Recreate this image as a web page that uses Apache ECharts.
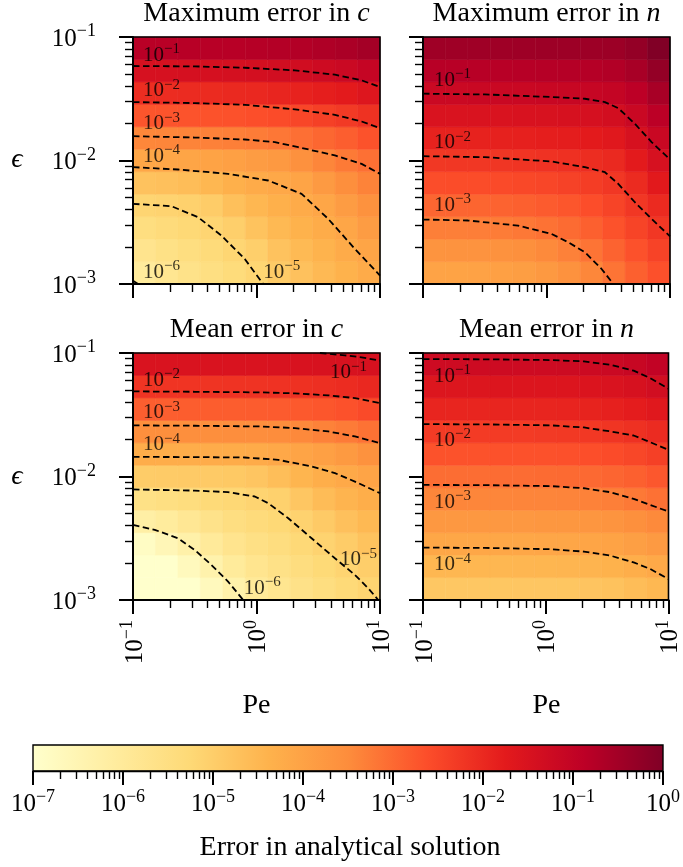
<!DOCTYPE html>
<html><head><meta charset="utf-8">
<script src="https://cdn.jsdelivr.net/npm/echarts@6/dist/echarts.min.js"></script>
<style>html,body{margin:0;padding:0;background:#fff}#c{width:683px;height:867px}</style>
</head><body><div id="c"></div>
<script>
// ---------- DATA (all values are log10 of the quantity) ----------
// grid node positions: log10(Pe) and log10(epsilon)
const logPeGrid  = [-1, -0.8182, -0.6364, -0.4545, -0.2727, -0.0909, 0.0909, 0.2727, 0.4545, 0.6364, 0.8182, 1];
const logEpsGrid = [-3, -2.8182, -2.6364, -2.4545, -2.2727, -2.0909, -1.9091, -1.7273, -1.5455, -1.3636, -1.1818, -1];

// log10(error); rows: epsilon ascending (first row = 1e-3), columns: Pe ascending
const maxErrC = [
 [-6.05,-5.81,-5.65,-5.51,-5.36,-5.19,-4.94,-4.72,-4.54,-4.37,-4.20],
 [-5.75,-5.58,-5.45,-5.33,-5.19,-5.02,-4.74,-4.55,-4.39,-4.22,-4.06],
 [-5.46,-5.35,-5.26,-5.16,-5.02,-4.75,-4.53,-4.38,-4.23,-4.08,-3.86],
 [-5.17,-5.12,-5.07,-4.95,-4.68,-4.48,-4.33,-4.21,-4.08,-3.86,-3.61],
 [-4.74,-4.70,-4.63,-4.48,-4.33,-4.21,-4.13,-4.04,-3.81,-3.55,-3.36],
 [-4.12,-4.09,-4.06,-4.01,-3.95,-3.86,-3.78,-3.60,-3.40,-3.23,-3.10],
 [-3.42,-3.40,-3.37,-3.34,-3.31,-3.26,-3.20,-3.09,-2.97,-2.85,-2.68],
 [-2.72,-2.71,-2.70,-2.68,-2.66,-2.63,-2.58,-2.49,-2.39,-2.29,-2.15],
 [-2.07,-2.05,-2.04,-2.03,-2.01,-1.99,-1.93,-1.88,-1.81,-1.74,-1.61],
 [-1.44,-1.44,-1.43,-1.42,-1.40,-1.38,-1.34,-1.31,-1.24,-1.18,-1.06],
 [-0.82,-0.82,-0.81,-0.81,-0.80,-0.78,-0.75,-0.73,-0.68,-0.62,-0.51]
];
const maxErrN = [
 [-4.02,-4.01,-4.00,-3.96,-3.91,-3.78,-3.63,-3.42,-3.15,-2.88,-2.65],
 [-3.66,-3.65,-3.65,-3.61,-3.56,-3.46,-3.33,-3.15,-2.91,-2.67,-2.44],
 [-3.31,-3.30,-3.29,-3.26,-3.21,-3.13,-3.03,-2.88,-2.68,-2.45,-2.23],
 [-2.96,-2.95,-2.94,-2.91,-2.87,-2.81,-2.73,-2.61,-2.46,-2.24,-2.02],
 [-2.60,-2.59,-2.59,-2.56,-2.53,-2.49,-2.43,-2.34,-2.23,-2.03,-1.73],
 [-2.25,-2.24,-2.23,-2.22,-2.19,-2.16,-2.12,-2.07,-2.00,-1.74,-1.44],
 [-1.89,-1.88,-1.88,-1.87,-1.85,-1.82,-1.80,-1.75,-1.68,-1.45,-1.15],
 [-1.53,-1.52,-1.52,-1.51,-1.49,-1.47,-1.45,-1.42,-1.36,-1.16,-0.86],
 [-1.17,-1.17,-1.16,-1.15,-1.14,-1.12,-1.11,-1.09,-1.04,-0.87,-0.57],
 [-0.81,-0.81,-0.81,-0.80,-0.79,-0.77,-0.76,-0.76,-0.72,-0.58,-0.28],
 [-0.45,-0.45,-0.45,-0.44,-0.43,-0.42,-0.42,-0.42,-0.40,-0.28,-0.02]
];
const meanErrC = [
 [-7.9,-7.6,-7.1,-6.71,-6.35,-5.98,-5.80,-5.62,-5.45,-5.30,-5.15],
 [-7.4,-7.1,-6.71,-6.36,-6.02,-5.77,-5.61,-5.44,-5.28,-5.14,-5.00],
 [-6.85,-6.58,-6.30,-6.01,-5.75,-5.56,-5.43,-5.27,-5.12,-4.96,-4.76],
 [-6.22,-6.06,-5.88,-5.66,-5.48,-5.35,-5.24,-5.10,-4.91,-4.70,-4.53],
 [-5.59,-5.51,-5.41,-5.30,-5.22,-5.14,-5.06,-4.83,-4.60,-4.43,-4.29],
 [-4.95,-4.94,-4.92,-4.91,-4.88,-4.81,-4.65,-4.44,-4.29,-4.17,-4.05],
 [-4.26,-4.25,-4.25,-4.24,-4.23,-4.21,-4.14,-4.05,-3.96,-3.80,-3.62],
 [-3.55,-3.55,-3.55,-3.54,-3.53,-3.53,-3.50,-3.44,-3.35,-3.25,-3.12],
 [-2.85,-2.85,-2.84,-2.84,-2.83,-2.82,-2.81,-2.78,-2.73,-2.66,-2.56],
 [-2.19,-2.19,-2.19,-2.18,-2.17,-2.17,-2.16,-2.14,-2.10,-2.05,-1.99],
 [-1.52,-1.52,-1.52,-1.52,-1.51,-1.51,-1.50,-1.49,-1.48,-1.47,-1.45]
];
const meanErrN = [
 [-4.85,-4.85,-4.85,-4.84,-4.83,-4.83,-4.82,-4.79,-4.73,-4.63,-4.51],
 [-4.48,-4.48,-4.48,-4.48,-4.47,-4.46,-4.45,-4.43,-4.37,-4.28,-4.16],
 [-4.12,-4.12,-4.12,-4.11,-4.11,-4.10,-4.09,-4.06,-4.01,-3.93,-3.81],
 [-3.76,-3.76,-3.76,-3.76,-3.75,-3.74,-3.73,-3.71,-3.66,-3.58,-3.46],
 [-3.40,-3.40,-3.40,-3.40,-3.39,-3.39,-3.38,-3.35,-3.31,-3.22,-3.11],
 [-3.05,-3.05,-3.05,-3.04,-3.04,-3.03,-3.02,-3.00,-2.95,-2.87,-2.75],
 [-2.68,-2.68,-2.68,-2.67,-2.66,-2.66,-2.65,-2.63,-2.58,-2.50,-2.39],
 [-2.31,-2.31,-2.31,-2.30,-2.30,-2.29,-2.28,-2.26,-2.21,-2.14,-2.04],
 [-1.94,-1.94,-1.94,-1.94,-1.93,-1.93,-1.92,-1.90,-1.85,-1.79,-1.69],
 [-1.60,-1.60,-1.60,-1.59,-1.59,-1.58,-1.58,-1.56,-1.52,-1.45,-1.34],
 [-1.25,-1.25,-1.25,-1.25,-1.24,-1.24,-1.23,-1.22,-1.18,-1.11,-0.99]
];

// contour lines: [log10 Pe, log10 eps], one array per level 1e-1, 1e-2, ...
const contoursMaxC = [
 [[-1,-1.235],[-0.5,-1.238],[-0.095,-1.249],[0.311,-1.270],[0.635,-1.305],[0.851,-1.351],[1,-1.405]],
 [[-1,-1.527],[-0.5,-1.535],[-0.095,-1.549],[0.311,-1.586],[0.635,-1.630],[0.851,-1.684],[1,-1.738]],
 [[-1,-1.803],[-0.5,-1.814],[-0.095,-1.830],[0.149,-1.851],[0.338,-1.892],[0.635,-1.959],[0.851,-2.027],[1,-2.108]],
 [[-1,-2.054],[-0.635,-2.073],[-0.230,-2.108],[0.095,-2.162],[0.365,-2.270],[0.581,-2.473],[0.797,-2.716],[1,-2.932]],
 [[-1,-2.351],[-0.689,-2.370],[-0.473,-2.459],[-0.284,-2.608],[-0.095,-2.797],[0.054,-3.0]],
 [[-1,-2.973],[-0.959,-3.0]]
];
const contoursMaxN = [
 [[-1,-1.459],[-0.5,-1.465],[0.041,-1.486],[0.311,-1.500],[0.473,-1.527],[0.581,-1.576],[0.716,-1.703],[0.851,-1.851],[1,-1.992]],
 [[-1,-1.965],[-0.5,-1.973],[0.041,-2.008],[0.311,-2.054],[0.473,-2.095],[0.581,-2.189],[0.716,-2.338],[0.851,-2.473],[1,-2.614]],
 [[-1,-2.478],[-0.635,-2.486],[-0.230,-2.527],[0.041,-2.595],[0.176,-2.662],[0.311,-2.743],[0.446,-2.878],[0.541,-3.0]]
];
const contoursMeanC = [
 [[0.514,-1.0],[0.716,-1.019],[0.851,-1.035],[1,-1.062]],
 [[-1,-1.311],[-0.5,-1.314],[0.041,-1.319],[0.311,-1.327],[0.581,-1.343],[0.797,-1.365],[1,-1.405]],
 [[-1,-1.586],[-0.5,-1.589],[0.041,-1.595],[0.311,-1.608],[0.581,-1.635],[0.797,-1.676],[1,-1.730]],
 [[-1,-1.841],[-0.5,-1.843],[-0.095,-1.846],[0.176,-1.865],[0.446,-1.919],[0.635,-1.973],[0.797,-2.041],[1,-2.135]],
 [[-1,-2.105],[-0.5,-2.114],[-0.230,-2.127],[-0.014,-2.162],[0.095,-2.216],[0.257,-2.338],[0.446,-2.5],[0.635,-2.662],[0.797,-2.797],[0.905,-2.905],[0.986,-3.0]],
 [[-1,-2.392],[-0.824,-2.432],[-0.635,-2.5],[-0.5,-2.595],[-0.365,-2.716],[-0.230,-2.851],[-0.108,-3.0]]
];
const contoursMeanN = [
 [[-1,-1.049],[-0.5,-1.051],[0.041,-1.057],[0.311,-1.068],[0.527,-1.095],[0.716,-1.143],[0.851,-1.203],[1,-1.289]],
 [[-1,-1.576],[-0.5,-1.578],[0.041,-1.586],[0.311,-1.603],[0.527,-1.635],[0.716,-1.668],[0.851,-1.722],[1,-1.784]],
 [[-1,-2.068],[-0.5,-2.070],[0.041,-2.078],[0.311,-2.095],[0.527,-2.127],[0.716,-2.181],[0.851,-2.230],[1,-2.284]],
 [[-1,-2.576],[-0.5,-2.578],[0.041,-2.589],[0.311,-2.608],[0.527,-2.641],[0.716,-2.695],[0.851,-2.749],[1,-2.830]]
];

// contour labels: [log10 Pe, log10 eps, exponent of level]
const labelsMaxC  = [[-0.919,-1.135,-1],[-0.919,-1.424,-2],[-0.919,-1.689,-3],[-0.919,-1.954,-4],[0.054,-2.892,-5],[-0.919,-2.892,-6]];
const labelsMaxN  = [[-0.911,-1.338,-1],[-0.911,-1.846,-2],[-0.911,-2.351,-3]];
const labelsMeanC = [[0.595,-1.149,-1],[-0.919,-1.208,-2],[-0.919,-1.473,-3],[-0.919,-1.730,-4],[0.676,-2.662,-5],[-0.103,-2.892,-6]];
const labelsMeanN = [[-0.911,-1.176,-1],[-0.911,-1.695,-2],[-0.911,-2.197,-3],[-0.911,-2.703,-4]];

// tick exponents
const peTickExps   = [-1, 0, 1];
const epsTickExps  = [-3, -2, -1];
const cbarTickExps = [-7, -6, -5, -4, -3, -2, -1, 0];
const cbarRange    = [-7, 0];

const panelTitles = [['Maximum error in ', 'c'], ['Maximum error in ', 'n'], ['Mean error in ', 'c'], ['Mean error in ', 'n']];

// ---------- STYLE / BUILD ----------
const FONT = "'Liberation Serif', 'DejaVu Serif', serif";
const YLORRD = ['#ffffcc','#ffeda0','#fed976','#feb24c','#fd8d3c','#fc4e2a','#e31a1c','#bd0026','#800026'];
const RGB = YLORRD.map(h => [parseInt(h.slice(1,3),16), parseInt(h.slice(3,5),16), parseInt(h.slice(5,7),16)]);
function cmap(v) {
  let t = (v - cbarRange[0]) / (cbarRange[1] - cbarRange[0]);
  t = Math.max(0, Math.min(1, t));
  const s = t * (RGB.length - 1);
  const k = Math.min(Math.floor(s), RGB.length - 2);
  const f = s - k, a = RGB[k], b = RGB[k + 1];
  return 'rgb(' + [0,1,2].map(q => Math.round(a[q] + (b[q] - a[q]) * f)).join(',') + ')';
}
function expText(e) { e = Math.round(e); return '{b|10}{s|' + (e < 0 ? '\u2212' + (-e) : String(e)) + '}'; }
function minorsOf(exps) {
  const out = [];
  for (let n = 0; n < exps.length - 1; n++) for (let k = 2; k <= 9; k++) out.push(exps[n] + Math.log10(k));
  return out;
}
const axisRich = {
  b: { fontFamily: FONT, fontSize: 25, color: '#000', verticalAlign: 'bottom', lineHeight: 29 },
  s: { fontFamily: FONT, fontSize: 18, color: '#000', verticalAlign: 'top', lineHeight: 18 }
};
const contourRich = {
  b: { fontFamily: FONT, fontSize: 21, color: '#000', verticalAlign: 'bottom', lineHeight: 24 },
  s: { fontFamily: FONT, fontSize: 15, color: '#000', verticalAlign: 'top', lineHeight: 15 }
};

const panels = [
  { values: maxErrC,  contours: contoursMaxC,  labels: labelsMaxC,  grid: { left: 133, top: 37,  width: 247, height: 247 }, xl: false, yl: true },
  { values: maxErrN,  contours: contoursMaxN,  labels: labelsMaxN,  grid: { left: 423, top: 37,  width: 247, height: 247 }, xl: false, yl: false },
  { values: meanErrC, contours: contoursMeanC, labels: labelsMeanC, grid: { left: 133, top: 353, width: 247, height: 247 }, xl: true,  yl: true },
  { values: meanErrN, contours: contoursMeanN, labels: labelsMeanN, grid: { left: 423, top: 353, width: 247, height: 247 }, xl: true,  yl: false }
];

const grids = [], xAxes = [], yAxes = [], series = [];
function axisPair(kind, g, min, max, majors, showLabels, labelExtra) {
  const common = { type: 'value', gridIndex: g, min: min, max: max, splitLine: { show: false }, z: 10,
                   position: kind === 'x' ? 'bottom' : 'left' };
  const major = Object.assign({}, common, {
    axisLine: { show: true, onZero: false, lineStyle: { color: '#000', width: 2 } },
    axisTick: { show: true, length: 14, customValues: majors, lineStyle: { color: '#000', width: 2 } },
    axisLabel: Object.assign({ show: showLabels, customValues: majors, formatter: v => expText(v), rich: axisRich,
                 showMinLabel: true, showMaxLabel: true }, labelExtra || {})
  });
  const minor = Object.assign({}, common, {
    axisLine: { show: false, onZero: false },
    axisTick: { show: true, length: 8, customValues: minorsOf(majors), lineStyle: { color: '#000', width: 1.4 } },
    axisLabel: { show: false }
  });
  return [major, minor];
}

panels.forEach((p, k) => {
  grids.push(Object.assign({ show: true, borderColor: '#000', borderWidth: 1.6, backgroundColor: 'transparent', z: 10 }, p.grid));
  xAxes.push(...axisPair('x', k, -1, 1, peTickExps, p.xl, { rotate: 90, margin: 20 }));
  yAxes.push(...axisPair('y', k, -3, -1, epsTickExps, p.yl, { margin: 37 }));
  const cells = [];
  p.values.forEach((row, j) => row.forEach((v, i) => cells.push([logPeGrid[i], logEpsGrid[j], v, i, j])));
  series.push({
    type: 'custom', xAxisIndex: 2 * k, yAxisIndex: 2 * k, data: cells, silent: true, z: 1,
    renderItem: function (params, api) {
      const i = api.value(3), j = api.value(4), c = cmap(api.value(2));
      const a = api.coord([logPeGrid[i], logEpsGrid[j]]);
      const b = api.coord([logPeGrid[i + 1], logEpsGrid[j + 1]]);
      return { type: 'rect', shape: { x: a[0], y: b[1], width: b[0] - a[0], height: a[1] - b[1] },
               style: { fill: c, stroke: c, lineWidth: 0.6 } };
    }
  });
  p.contours.forEach(c => series.push({
    type: 'line', xAxisIndex: 2 * k, yAxisIndex: 2 * k, data: c, symbol: 'none', showSymbol: false, silent: true, z: 3,
    lineStyle: { color: '#000', width: 1.8, type: [6.5, 3.5] }
  }));
  series.push({
    type: 'scatter', xAxisIndex: 2 * k, yAxisIndex: 2 * k, data: p.labels, symbolSize: 0.1, silent: true, z: 4,
    itemStyle: { color: 'transparent' },
    label: { show: true, position: 'right', distance: 0, formatter: d => expText(d.value[2]), rich: contourRich }
  });
});

// colorbar
grids.push({ show: true, left: 33, top: 745, width: 634, height: 26, borderColor: '#000', borderWidth: 1.4, backgroundColor: 'transparent', z: 10 });
xAxes.push(...axisPair('x', 4, cbarRange[0], cbarRange[1], cbarTickExps, true, { margin: 17 }));
xAxes[8].axisLine.lineStyle.width = 1.4;
yAxes.push({ type: 'value', gridIndex: 4, min: 0, max: 1, show: false });
series.push({
  type: 'custom', xAxisIndex: 8, yAxisIndex: 8, data: [[cbarRange[0], cbarRange[1]]], silent: true, z: 1,
  renderItem: function (params, api) {
    const a = api.coord([api.value(0), 0]);
    const b = api.coord([api.value(1), 1]);
    return { type: 'rect', shape: { x: a[0], y: b[1], width: b[0] - a[0], height: a[1] - b[1] },
             style: { fill: new echarts.graphic.LinearGradient(0, 0, 1, 0,
               YLORRD.map((c, i) => ({ offset: i / (YLORRD.length - 1), color: c }))) } };
  }
});

function txt(x, y, text, size, rich) {
  return { type: 'text', x: x, y: y, silent: true, z: 20,
    style: { text: text, fontFamily: FONT, fontSize: size, fill: '#000', align: 'center', verticalAlign: 'middle',
             textAlign: 'center', textVerticalAlign: 'middle', rich: rich || {} } };
}
const italic = { i: { fontFamily: FONT, fontSize: 28, fontStyle: 'italic', color: '#000' } };
const graphics = [];
const titleXY = [[256.5, 14], [546.5, 14], [256.5, 330], [546.5, 330]];
panelTitles.forEach((t, k) => graphics.push(txt(titleXY[k][0], titleXY[k][1], t[0] + '{i|' + t[1] + '}', 28, italic)));
graphics.push(txt(256.5, 706, 'Pe', 28));
graphics.push(txt(546.5, 706, 'Pe', 28));
graphics.push(txt(17, 160, '{i|\u03f5}', 28, italic));
graphics.push(txt(17, 477, '{i|\u03f5}', 28, italic));
graphics.push(txt(350, 848, 'Error in analytical solution', 28));

const chart = echarts.init(document.getElementById('c'), null, { renderer: 'canvas' });
chart.setOption({
  animation: false,
  backgroundColor: '#fff',
  grid: grids, xAxis: xAxes, yAxis: yAxes, series: series, graphic: graphics
});
</script></body></html>
